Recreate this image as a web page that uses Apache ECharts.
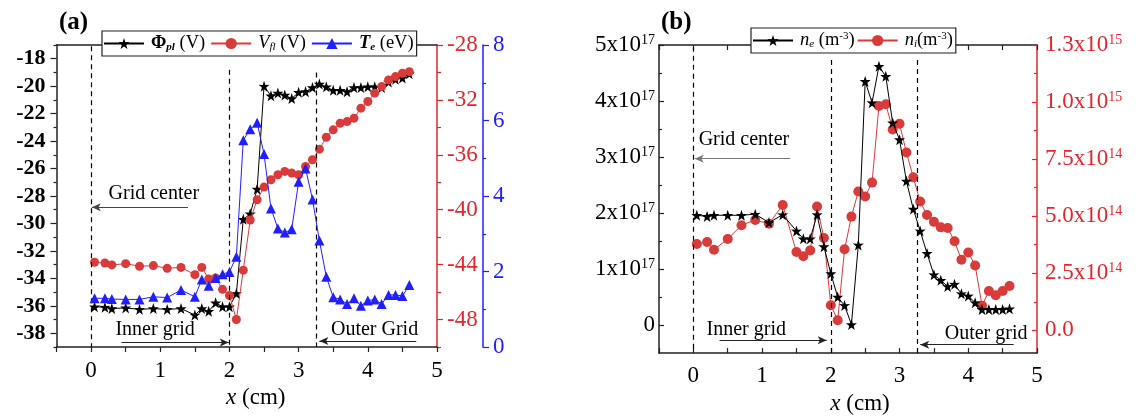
<!DOCTYPE html>
<html>
<head>
<meta charset="utf-8">
<script src="https://cdn.jsdelivr.net/npm/echarts@6/dist/echarts.min.js"></script>
<style>
  html, body { margin: 0; padding: 0; background: #fff; }
  #chart { width: 1137px; height: 420px; }
</style>
</head>
<body>
<div id="chart"></div>
<script>
// Probe positions along the discharge (cm)
const xPos = [0.05, 0.2, 0.3, 0.5, 0.7, 0.9, 1.1, 1.3, 1.5, 1.6, 1.7, 1.8, 1.9, 2.0,
  2.1, 2.2, 2.3, 2.4, 2.5, 2.6, 2.7, 2.8, 2.9, 3.0, 3.1, 3.2, 3.3, 3.4, 3.5, 3.6,
  3.7, 3.8, 3.9, 4.0, 4.1, 4.2, 4.3, 4.4, 4.5, 4.6];

// (a) plasma potential (V)
const phiPl = [-36.07, -36.1, -36.2, -36.15, -36.26, -36.2, -36.26, -36.2, -36.67, -36.2,
  -36.4, -35.78, -36.07, -36.07, -35.1, -29.7, -29.3, -27.5, -20.0, -20.7, -20.5, -20.65,
  -20.9, -20.45, -20.4, -20.1, -19.85, -20.05, -20.3, -20.3, -20.4, -20.1, -20.1, -20.05,
  -20.05, -20.1, -19.7, -19.5, -19.4, -19.1];
// (a) floating potential (V)
const vFl = [-43.83, -43.88, -44.02, -43.93, -44.12, -44.07, -44.27, -44.2, -44.73, -44.2,
  -45.04, -44.97, -45.8, -46.25, -48.0, -44.4, -40.75, -39.27, -38.35, -37.82, -37.45,
  -37.21, -37.33, -37.45, -36.85, -36.36, -35.59, -34.72, -34.18, -33.7, -33.58, -33.33,
  -32.6, -32.12, -31.51, -31.03, -30.55, -30.3, -30.06, -29.94];
// (a) electron temperature (eV)
const tE = [1.29, 1.29, 1.27, 1.26, 1.26, 1.33, 1.31, 1.51, 1.33, 1.79, 1.62, 1.83, 1.93,
  1.99, 2.39, 5.48, 5.77, 5.94, 5.11, 3.67, 3.14, 3.03, 3.12, 4.38, 4.73, 3.91, 2.82, 1.86,
  1.32, 1.26, 1.14, 1.29, 1.09, 1.23, 1.26, 1.14, 1.38, 1.38, 1.35, 1.64];
// (b) electron density, in units of 1e17 m^-3
const nE = [1.96, 1.94, 1.96, 1.96, 1.96, 1.98, 1.83, 1.97, 1.68, 1.54, 1.54, 1.97, 1.4,
  0.92, 0.5, 0.35, 0.01, 1.43, 4.35, 3.97, 4.62, 4.44, 3.61, 3.31, 2.57, 2.07, 1.68, 1.28,
  0.9, 0.8, 0.69, 0.73, 0.56, 0.52, 0.4, 0.28, 0.28, 0.28, 0.28, 0.29];
// (b) ion density, in units of 1e14 m^-3
const nI = [3.78, 3.87, 3.53, 4.0, 4.6, 4.83, 4.67, 5.49, 3.43, 3.24, 3.5, 5.42, 4.04, 1.1,
  0.44, 3.55, 4.98, 6.08, 5.86, 6.47, 9.83, 9.9, 8.8, 9.05, 7.79, 6.7, 5.64, 5.05, 4.75,
  4.51, 4.48, 3.9, 3.09, 3.41, 2.84, 1.08, 1.72, 1.54, 1.72, 1.94];
const NE_EXP = 17;
const NI_EXP = 14;

// Tick label values
const xTicks = [0, 1, 2, 3, 4, 5];
const phiTicks = [-38, -36, -34, -32, -30, -28, -26, -24, -22, -20, -18];
const phiMinor = [-39, -37, -35, -33, -31, -29, -27, -25, -23, -21, -19, -17];
const vflTicks = [-48, -44, -40, -36, -32, -28];
const vflMinor = [-50, -46, -42, -38, -34, -30];
const neTicks = [0, 1, 2, 3, 4, 5];
const neMinor = [0.5, 1.5, 2.5, 3.5, 4.5];
const niTicks = [0, 2.5, 5, 7.5, 10, 12.5];
const niMinor = [1.25, 3.75, 6.25, 8.75, 11.25];

// Legend and annotation texts
const legendText = {
  phi: '{b|Φ}{bsub|pl}{n| (V)}',
  vfl: '{it|V}{isub|fl}{n| (V)}',
  te: '{bi|T}{bsub|e}{n| (eV)}',
  ne: '{it|n}{isub|e}{n| (m}{sup|-3}{n|)}',
  ni: '{it|n}{isub|i}{n|(m}{sup|-3}{n|)}'
};
const panelTitles = ['(a)', '(b)'];
const axisTitle = '{i|x} (cm)';

const FONT = 'Liberation Serif';
const AX = '#222';
const RED_AX = '#e3262b';
const RED = '#d93a3a';
const BLUE = '#2020ff';
const STAR = 'path://M50 0L61.8 35.1L98.1 34.5L69.1 57.3L79.4 91.9L50 70.9L20.6 91.9L30.9 57.3L1.9 34.5L38.2 35.1Z';

const pairs = (ys) => xPos.map((x, i) => [x, ys[i]]);

function sciLabel(v, unitExp, digits) {
  if (v === 0) return '{m|' + (digits ? (0).toFixed(digits) : '0') + '}';
  const real = v * Math.pow(10, unitExp);
  const e = Math.floor(Math.log10(real) + 1e-9);
  const m = real / Math.pow(10, e);
  return '{m|' + m.toFixed(digits) + 'x10}{s|' + e + '}';
}

const sciRich = (color) => ({
  m: { fontFamily: FONT, fontSize: 23, color: color },
  s: { fontFamily: FONT, fontSize: 14, color: color, verticalAlign: 'top' }
});

const nameStyle = (shift) => ({
  fontFamily: FONT, fontSize: 23, color: '#000', padding: [0, 0, 0, shift],
  rich: { i: { fontFamily: FONT, fontSize: 23, fontStyle: 'italic', color: '#000' } }
});

const tickLabel = (color, extra) => Object.assign({
  fontFamily: FONT, fontSize: 23, color: color, margin: 10
}, extra || {});

function xAxisDef(gridIndex, position, extra) {
  return Object.assign({
    type: 'value', gridIndex: gridIndex, position: position,
    min: -0.5, max: 5, interval: 0.5,
    splitLine: { show: false },
    axisLine: { onZero: false, lineStyle: { color: AX, width: 1.5 } }
  }, extra);
}

function yAxisDef(gridIndex, position, min, max, extra) {
  return Object.assign({
    type: 'value', gridIndex: gridIndex, position: position, min: min, max: max,
    splitLine: { show: false },
    axisLine: { onZero: false, lineStyle: { color: AX, width: 1.5 } }
  }, extra);
}

function minorAxis(gridIndex, position, min, max, values, color, len, inside) {
  return yAxisDef(gridIndex, position, min, max, {
    axisLine: { show: false, onZero: false },
    axisLabel: { show: false },
    axisTick: { show: true, inside: inside, length: len, customValues: values,
      lineStyle: { color: color, width: 1.2 } }
  });
}

const labelStyle = { fontFamily: FONT, fontSize: 20, color: '#000' };

function textMarks(items) {
  return {
    silent: true, animation: false,
    symbol: 'circle', symbolSize: 1,
    itemStyle: { color: 'rgba(0,0,0,0)' },
    label: Object.assign({ show: true, position: 'right', distance: 0,
      formatter: (p) => p.name }, labelStyle),
    data: items.map((t) => ({ name: t[0], coord: [t[1], t[2]] }))
  };
}

function guideLines(dashes, arrows) {
  const data = [];
  dashes.forEach((d) => data.push([{ coord: [d[0], d[1]] }, { coord: [d[0], d[2]] }]));
  arrows.forEach((a) => data.push([
    { coord: [a[0], a[2]], symbol: 'none',
      lineStyle: { type: 'solid', color: a[3], width: 1.2 } },
    { coord: [a[1], a[2]], symbol: 'arrow', symbolSize: [6, 9] }
  ]));
  return {
    silent: true, animation: false,
    symbol: ['none', 'none'],
    label: { show: false },
    emphasis: { disabled: true },
    lineStyle: { color: '#000', type: [5, 4], width: 1.2 },
    data: data
  };
}

const LFS = 18.5;
const legendRich = {
  b: { fontFamily: FONT, fontSize: LFS, fontWeight: 'bold', color: '#000' },
  bi: { fontFamily: FONT, fontSize: LFS, fontWeight: 'bold', fontStyle: 'italic', color: '#000' },
  bsub: { fontFamily: FONT, fontSize: 11, fontWeight: 'bold', fontStyle: 'italic', color: '#000', verticalAlign: 'bottom' },
  it: { fontFamily: FONT, fontSize: LFS, fontStyle: 'italic', color: '#000' },
  isub: { fontFamily: FONT, fontSize: 11, fontStyle: 'italic', color: '#000', verticalAlign: 'bottom' },
  n: { fontFamily: FONT, fontSize: LFS, color: '#000' },
  sup: { fontFamily: FONT, fontSize: 11, color: '#000', verticalAlign: 'top' }
};

function legendDef(names, left, top, iw, gap) {
  return {
    data: names, left: left, top: top, orient: 'horizontal',
    itemWidth: iw, itemHeight: 14, itemGap: gap,
    padding: [3, 3, 3, 1],
    borderColor: '#222', borderWidth: 1.2, backgroundColor: '#fff',
    selectedMode: false,
    formatter: (n) => legendText[n],
    textStyle: { fontFamily: FONT, fontSize: LFS, color: '#000', padding: [0, 0, 0, 2], rich: legendRich }
  };
}

const chart = echarts.init(document.getElementById('chart'), null, { renderer: 'canvas' });

chart.setOption({
  animation: false,
  backgroundColor: '#fff',
  textStyle: { fontFamily: FONT },
  title: [
    { text: panelTitles[0], left: 54, top: 5,
      textStyle: { fontFamily: FONT, fontSize: 25, fontWeight: 'bold', color: '#000' } },
    { text: panelTitles[1], left: 656, top: 5,
      textStyle: { fontFamily: FONT, fontSize: 25, fontWeight: 'bold', color: '#000' } }
  ],
  legend: [
    legendDef(['phi', 'vfl', 'te'], 102, 31, 40, 5),
    legendDef(['ne', 'ni'], 751, 28, 40, 2)
  ],
  grid: [
    { left: 56.5, top: 45, width: 380.5, height: 302 },
    { left: 659, top: 45, width: 378, height: 310 }
  ],
  xAxis: [
    xAxisDef(0, 'bottom', {
      axisTick: { length: 5, lineStyle: { color: AX, width: 1.2 } },
      axisLabel: tickLabel('#000', { customValues: xTicks, margin: 12 }),
      name: axisTitle, nameLocation: 'middle', nameGap: 37, nameTextStyle: nameStyle(18)
    }),
    xAxisDef(0, 'top', { axisTick: { show: false }, axisLabel: { show: false } }),
    xAxisDef(1, 'bottom', {
      axisTick: { inside: true, length: 5, lineStyle: { color: AX, width: 1.2 } },
      axisLabel: tickLabel('#000', { customValues: xTicks, margin: 11 }),
      name: axisTitle, nameLocation: 'middle', nameGap: 36, nameTextStyle: nameStyle(24)
    }),
    xAxisDef(1, 'top', {
      axisTick: { inside: true, length: 5, lineStyle: { color: AX, width: 1.2 } },
      axisLabel: { show: false }
    })
  ],
  yAxis: [
    // 0: plasma potential
    yAxisDef(0, 'left', -39, -17, {
      axisTick: { length: 6, customValues: phiTicks, lineStyle: { color: AX, width: 1.2 } },
      axisLabel: tickLabel('#000', { customValues: phiTicks, fontWeight: 'bold', fontSize: 22, margin: 11 })
    }),
    // 1: its minor ticks
    minorAxis(0, 'left', -39, -17, phiMinor, AX, 3, false),
    // 2: floating potential
    yAxisDef(0, 'right', -50, -28, {
      axisLine: { onZero: false, lineStyle: { color: RED_AX, width: 1.5 } },
      axisTick: { length: 6, customValues: vflTicks, lineStyle: { color: RED_AX, width: 1.2 } },
      axisLabel: tickLabel(RED_AX, { customValues: vflTicks })
    }),
    // 3: its minor ticks
    minorAxis(0, 'right', -50, -28, vflMinor, RED_AX, 4, false),
    // 4: electron temperature
    yAxisDef(0, 'right', 0, 8, {
      offset: 46, interval: 2,
      axisLine: { onZero: false, lineStyle: { color: BLUE, width: 1.5 } },
      axisTick: { length: 6, lineStyle: { color: BLUE, width: 1.2 } },
      minorTick: { show: true, splitNumber: 2, length: 3, lineStyle: { color: BLUE, width: 1.2 } },
      axisLabel: tickLabel(BLUE, {})
    }),
    // 5: electron density
    yAxisDef(1, 'left', -0.5, 5, {
      axisTick: { inside: true, length: 5, customValues: neTicks, lineStyle: { color: AX, width: 1.2 } },
      axisLabel: tickLabel('#000', { customValues: neTicks, margin: 4,
        formatter: (v) => sciLabel(v, NE_EXP, 0), rich: sciRich('#000') })
    }),
    // 6: its minor ticks
    minorAxis(1, 'left', -0.5, 5, neMinor, AX, 3, true),
    // 7: ion density
    yAxisDef(1, 'right', -1, 12.5, {
      axisLine: { onZero: false, lineStyle: { color: RED_AX, width: 1.5 } },
      axisTick: { inside: true, length: 5, customValues: niTicks, lineStyle: { color: RED_AX, width: 1.2 } },
      axisLabel: tickLabel(RED_AX, { customValues: niTicks, margin: 8,
        formatter: (v) => sciLabel(v, NI_EXP, 1), rich: sciRich(RED_AX) })
    }),
    // 8: its minor ticks
    minorAxis(1, 'right', -1, 12.5, niMinor, RED_AX, 3, true)
  ],
  series: [
    {
      name: 'phi', type: 'line', xAxisIndex: 0, yAxisIndex: 0, data: pairs(phiPl),
      symbol: STAR, symbolSize: 11, itemStyle: { color: '#000' },
      lineStyle: { color: '#000', width: 1 }, z: 3,
      markLine: guideLines(
        [[0, -17.1, -39], [2, -18.8, -39], [3.26, -19.0, -39]],
        [[1.4, 0.01, -28.82, '#444'], [0.44, 1.99, -38.68, '#222'], [4.7, 3.3, -38.56, '#222']]
      ),
      markPoint: textMarks([
        ['Grid center', 0.245, -27.85],
        ['Inner grid', 0.345, -37.76],
        ['Outer Grid', 3.46, -37.76]
      ])
    },
    {
      name: 'vfl', type: 'line', xAxisIndex: 0, yAxisIndex: 2, data: pairs(vFl),
      symbol: 'circle', symbolSize: 9, itemStyle: { color: RED },
      lineStyle: { color: RED, width: 1 }, z: 4
    },
    {
      name: 'te', type: 'line', xAxisIndex: 0, yAxisIndex: 4, data: pairs(tE),
      symbol: 'triangle', symbolSize: 10, itemStyle: { color: BLUE },
      lineStyle: { color: BLUE, width: 1 }, z: 5
    },
    {
      name: 'ne', type: 'line', xAxisIndex: 2, yAxisIndex: 5, data: pairs(nE),
      symbol: STAR, symbolSize: 11, itemStyle: { color: '#000' },
      lineStyle: { color: '#000', width: 1 }, z: 4,
      markLine: guideLines(
        [[0, 4.97, -0.5], [2, 4.73, -0.5], [3.26, 4.73, -0.5]],
        [[1.41, 0.02, 2.97, '#777'], [0.38, 1.94, -0.27, '#222'], [4.66, 3.3, -0.35, '#222']]
      ),
      markPoint: textMarks([
        ['Grid center', 0.07, 3.3],
        ['Inner grid', 0.185, -0.08],
        ['Outer grid', 3.65, -0.15]
      ])
    },
    {
      name: 'ni', type: 'line', xAxisIndex: 2, yAxisIndex: 7, data: pairs(nI),
      symbol: 'circle', symbolSize: 10, itemStyle: { color: RED },
      lineStyle: { color: RED, width: 1 }, z: 3
    }
  ]
});
</script>
</body>
</html>
